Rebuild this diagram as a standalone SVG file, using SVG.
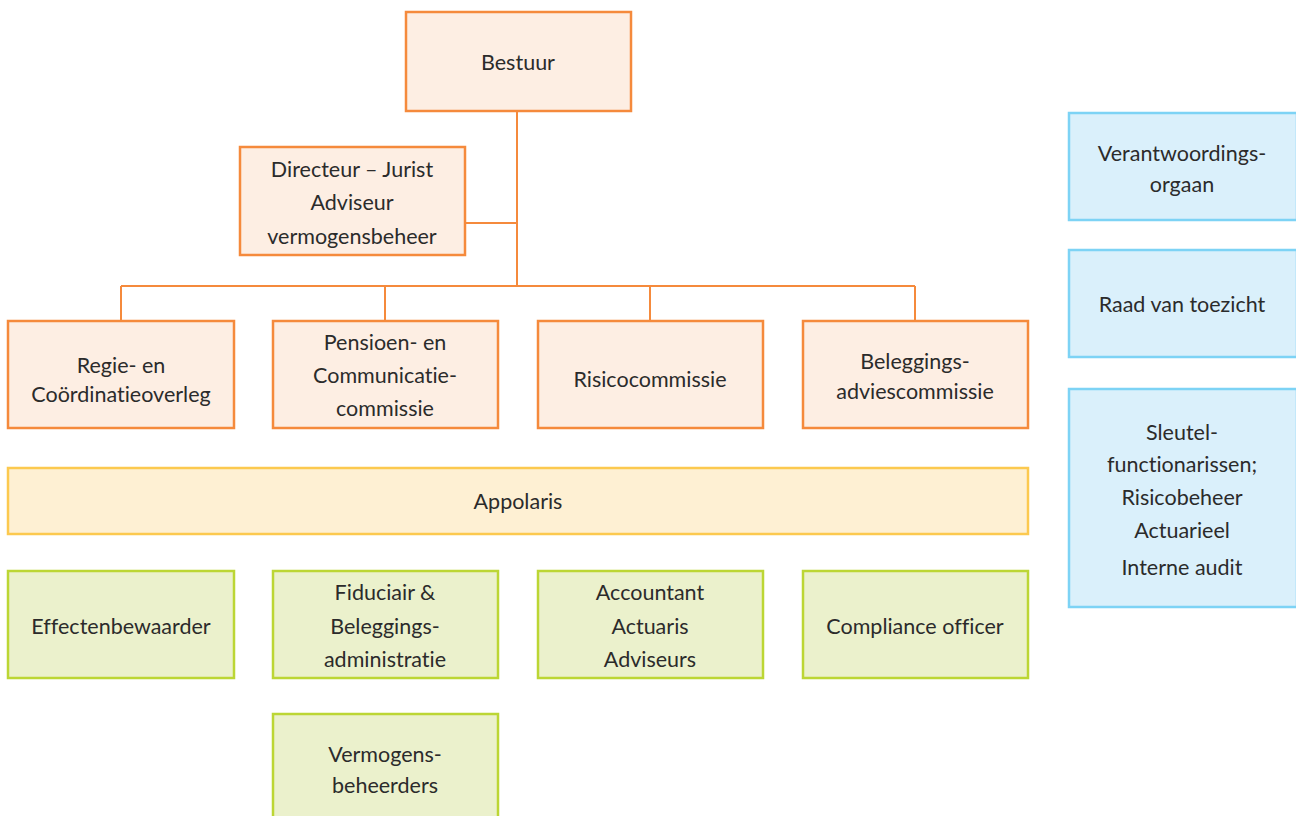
<svg xmlns="http://www.w3.org/2000/svg" width="1296" height="816" viewBox="0 0 1296 816">
<style>
text{font-family:Lato,"Open Sans","Liberation Sans",sans-serif;font-size:21.5px;fill:#2b2b2b;text-anchor:middle;font-variant-ligatures:none}
.o{fill:#FDEEE3;stroke:#F58A3C;stroke-width:2.5}
.y{fill:#FEF0D3;stroke:#FCC94F;stroke-width:2.5}
.g{fill:#EBF1CC;stroke:#BCD634;stroke-width:2.5}
.b{fill:#DAF0FB;stroke:#7DD3F5;stroke-width:2.5}
.c{fill:none;stroke:#F58A3C;stroke-width:2}
</style>
<rect width="1296" height="816" fill="#fff"/>
<g id="connectors">
<path class="c" d="M517 111V286M465 223H517M121 286H915M121 286V321M385 286V321M650 286V321M915 286V321"/>
</g>
<g id="bestuur"><rect class="o" x="406" y="12" width="225" height="99"/><text x="518" y="70">Bestuur</text></g>
<g id="directeur"><rect class="o" x="240" y="147" width="225" height="108"/>
<text x="352" y="177">Directeur – Jurist</text><text x="352" y="210">Adviseur</text><text x="352" y="244">vermogensbeheer</text></g>
<g id="regie"><rect class="o" x="8" y="321" width="226" height="107"/><text x="121" y="373">Regie- en</text><text x="121" y="402">Coördinatieoverleg</text></g>
<g id="pensioen"><rect class="o" x="273" y="321" width="225" height="107"/><text x="385" y="350">Pensioen- en</text><text x="385" y="383">Communicatie-</text><text x="385" y="416">commissie</text></g>
<g id="risico"><rect class="o" x="538" y="321" width="225" height="107"/><text x="650" y="387">Risicocommissie</text></g>
<g id="beleggingsadvies"><rect class="o" x="803" y="321" width="225" height="107"/><text x="915" y="369">Beleggings-</text><text x="915" y="399">adviescommissie</text></g>
<g id="appolaris"><rect class="y" x="8" y="468" width="1020" height="66"/><text x="518" y="509">Appolaris</text></g>
<g id="effecten"><rect class="g" x="8" y="571" width="226" height="107"/><text x="121" y="634">Effectenbewaarder</text></g>
<g id="fiduciair"><rect class="g" x="273" y="571" width="225" height="107"/><text x="385" y="600">Fiduciair &amp;</text><text x="385" y="634">Beleggings-</text><text x="385" y="667">administratie</text></g>
<g id="accountant"><rect class="g" x="538" y="571" width="225" height="107"/><text x="650" y="600">Accountant</text><text x="650" y="634">Actuaris</text><text x="650" y="667">Adviseurs</text></g>
<g id="compliance"><rect class="g" x="803" y="571" width="225" height="107"/><text x="915" y="634">Compliance officer</text></g>
<g id="vermogensbeheerders"><rect class="g" x="273" y="714" width="225" height="107"/><text x="385" y="762">Vermogens-</text><text x="385" y="793">beheerders</text></g>
<g id="verantwoordingsorgaan"><rect class="b" x="1069" y="113" width="228" height="107"/><text x="1182" y="161">Verantwoordings-</text><text x="1182" y="192">orgaan</text></g>
<g id="raad"><rect class="b" x="1069" y="250" width="228" height="107"/><text x="1182" y="312">Raad van toezicht</text></g>
<g id="sleutel"><rect class="b" x="1069" y="389" width="228" height="218"/>
<text x="1182" y="440">Sleutel-</text><text x="1182" y="472">functionarissen;</text><text x="1182" y="505">Risicobeheer</text><text x="1182" y="538">Actuarieel</text><text x="1182" y="575">Interne audit</text></g>
</svg>
